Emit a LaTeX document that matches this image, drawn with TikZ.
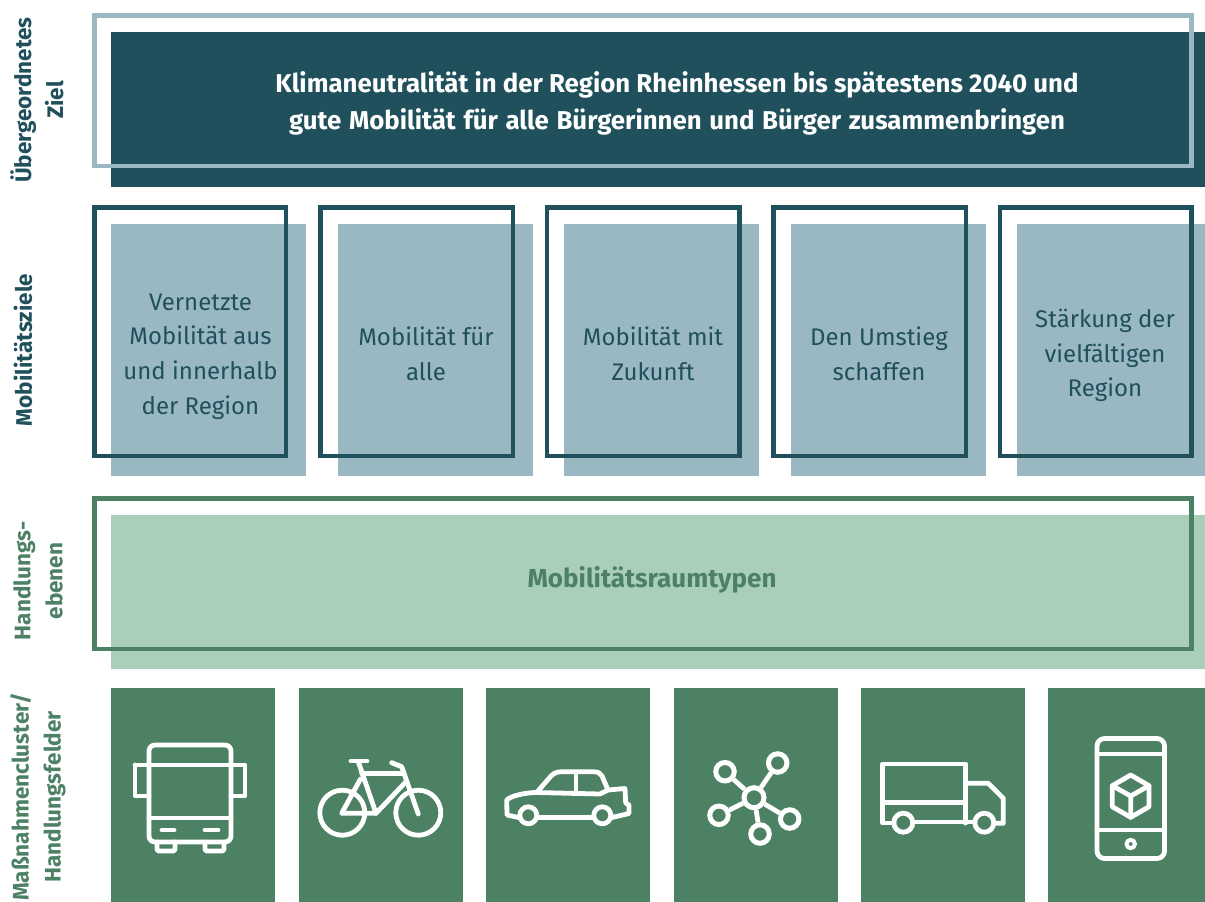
\documentclass[tikz,border=0pt]{standalone}
\usepackage{fontspec}
\setmainfont{Fira Sans}
\definecolor{darkteal}{HTML}{1F505C}
\definecolor{paleteal}{HTML}{9AB8C2}
\definecolor{darkgreen}{HTML}{4C8164}
\definecolor{palegreen}{HTML}{A9CFBA}
\tikzset{
  fillbox/.style={draw=none,fill=#1,rectangle,inner sep=0pt,outer sep=0pt,anchor=north west},
  framebox/.style={draw=#1,line width=4.6pt,fill=none,rectangle,inner sep=0pt,outer sep=0pt,anchor=north west},
  sidelabel/.style={rotate=90,font=\bfseries\fontsize{22.5}{32}\selectfont,align=center,text=#1,inner sep=0pt},
  goaltext/.style={font=\fontsize{24}{34.8}\selectfont,align=center,text=darkteal,inner sep=0pt},
  icon/.style={draw=white,line width=4.8pt,line join=round,line cap=round},
  iconthin/.style={draw=white,line width=4pt,line join=round,line cap=round},
  hub/.style={circle,draw=white,line width=5pt,fill=none,inner sep=0pt,outer sep=2.5pt,minimum size=#1}
}
\newcommand{\fbx}[6]{\node[#1,minimum width=#4pt,minimum height=#5pt] (#6) at (#2,#3) {};}
\begin{document}
\begin{tikzpicture}[x=1pt,y=-1pt]
\useasboundingbox (0,0) rectangle (1205,902);
\begin{scope}
\clip (0,0) rectangle (1205,902);
% Row 1
\fbx{fillbox=darkteal}{111}{32}{1094}{155}{goalfill}
\fbx{framebox=paleteal}{94.5}{15.5}{1097}{150.5}{goalframe}
\node[font=\bfseries\fontsize{25.8}{37}\selectfont,align=center,text=white,inner sep=0pt] (goaltxt) at (677,103.5)
  {Klimaneutralität in der Region Rheinhessen bis spätestens 2040 und\\\makebox[776pt][s]{gute Mobilität für alle Bürgerinnen und Bürger zusammenbringen}};
% Row 2
\fbx{fillbox=paleteal}{111}{224}{195}{252}{a}
\fbx{fillbox=paleteal}{338}{224}{195}{252}{b}
\fbx{fillbox=paleteal}{564}{224}{195}{252}{c}
\fbx{fillbox=paleteal}{791}{224}{195}{252}{d}
\fbx{fillbox=paleteal}{1017}{224}{195}{252}{e}
\fbx{framebox=darkteal}{94.5}{207.5}{191.5}{248.5}{af}
\fbx{framebox=darkteal}{320.5}{207.5}{192.5}{248.5}{bf}
\fbx{framebox=darkteal}{547}{207.5}{192.5}{248.5}{cf}
\fbx{framebox=darkteal}{773.5}{207.5}{192.5}{248.5}{df}
\fbx{framebox=darkteal}{1000}{207.5}{191.5}{248.5}{ef}
\node[goaltext] (at) at (200.5,356.5) {Vernetzte\\Mobilität aus\\und innerhalb\\der Region};
\node[goaltext] (bt) at (426,353.5) {Mobilität für\\alle};
\node[goaltext] (ct) at (653,353.5) {Mobilität mit\\Zukunft};
\node[goaltext] (dt) at (879,353.5) {Den Umstieg\\schaffen};
\node[goaltext] (et) at (1105,355.5) {Stärkung der\\vielfältigen\\Region};
% Row 3
\fbx{fillbox=palegreen}{111}{515}{1094}{154}{lvl}
\fbx{framebox=darkgreen}{94.5}{498.5}{1097}{150.5}{lvlf}
\node[font=\bfseries\fontsize{26}{32}\selectfont,text=darkgreen,inner sep=0pt] (lvlt) at (652,580) {Mobilitätsraumtypen};
% Row 4
\fbx{fillbox=darkgreen}{111}{688}{164}{214}{f1}
\fbx{fillbox=darkgreen}{299}{688}{164}{214}{f2}
\fbx{fillbox=darkgreen}{486}{688}{164}{214}{f3}
\fbx{fillbox=darkgreen}{674}{688}{163.5}{214}{f4}
\fbx{fillbox=darkgreen}{861}{688}{164}{214}{f5}
\fbx{fillbox=darkgreen}{1048}{688}{164}{214}{f6}
% Side labels
\node[sidelabel=darkteal] (s1) at (37,100) {Übergeordnetes\\Ziel};
\node[sidelabel=darkteal] (s2) at (23,350) {Mobilitätsziele};
\node[sidelabel=darkgreen] (s3) at (38,581) {Handlungs-\\ebenen};
\node[sidelabel=darkgreen] (s4) at (38,797) {Maßnahmencluster/\\Handlungsfelder};
% Bus
\draw[icon,rounded corners=6pt] (149,745) rectangle (231,842);
\draw[icon] (135,765) -- (245,765) -- (245,796) -- (231,796);
\draw[icon] (149,796) -- (135,796) -- (135,765);
\draw[icon] (149,818) -- (231,818);
\draw[icon] (162,830) -- (174,830) (205,830) -- (218,830);
\draw[icon,rounded corners=2pt] (157,842) -- (157,851) -- (175,851) -- (175,842);
\draw[icon,rounded corners=2pt] (205,842) -- (205,851) -- (224,851) -- (224,842);
% Bike
\draw[icon] (342.3,812.7) circle[radius=22.5] (418.3,812.7) circle[radius=22.5];
\draw[icon] (351,761) -- (367,761);
\draw[icon] (358.3,761.7) -- (376,813.3) -- (341.7,813.3) -- (360.5,779);
\draw[icon] (361.7,773.3) -- (404,773.3);
\draw[icon] (376,813.3) -- (406,781.7);
\draw[icon] (391.7,762.7) -- (401.7,766.7) -- (418.3,814);
% Car
\draw[icon] (528.3,815.3) circle[radius=8.5] (602.3,815.3) circle[radius=8.5];
\draw[icon] (519.5,817.7) -- (507,815 ) -- (506.7,800) .. controls (512,795) and (528,792.5) .. (536.7,792.5) -- (600,794) -- (608,790) -- (625,788.5) -- (625.7,803) -- (629,805) -- (629,813.5) -- (611,817.7);
\draw[icon] (537,817.7) -- (593.5,817.7);
\draw[icon] (536.7,792.5) -- (551,776) .. controls (555,772) and (558,772) .. (562,771.7) -- (593,771.7) .. controls (599,772) and (600,773) .. (602,776) -- (608,790);
\draw[icon] (576,774) -- (576,792);
% Network
\node[hub=20pt] (nc) at (754,797.7) {};
\node[hub=18.5pt] (n1) at (725,771.7) {};
\node[hub=18.5pt] (n2) at (777.7,763) {};
\node[hub=18.5pt] (n3) at (719,815.3) {};
\node[hub=18.5pt] (n4) at (789.7,819) {};
\node[hub=18.5pt] (n5) at (760,834) {};
\foreach \n in {n1,n2,n3,n4,n5} \draw[draw=white,line width=4.8pt] (nc) -- (\n);
% Truck
\draw[icon] (894,823) -- (882.7,823) -- (882.7,764) -- (965.7,764) -- (965.7,823);
\draw[icon] (882.7,802.7) -- (965.7,802.7);
\draw[icon] (912.5,822) -- (975,822);
\draw[icon] (965.7,783.3) -- (988.3,783.3) -- (1003.3,798.3) -- (1003.3,823.3) -- (994,823.3);
\draw[icon] (903.3,822.7) circle[radius=9.5] (984.3,822.7) circle[radius=9.5];
% Phone
\draw[icon,rounded corners=7.5pt] (1097,738.5) rectangle (1164.5,858.5);
\draw[icon] (1097,754) -- (1164.5,754) (1097,830) -- (1164.5,830);
\draw[iconthin] (1130.7,844) circle[radius=4.2];
\draw[icon] (1130.7,775) -- (1149,785.7) -- (1149,806.7) -- (1130.7,817.3) -- (1112.3,806.7) -- (1112.3,785.7) -- cycle;
\draw[icon] (1112.3,785.7) -- (1130.7,796) -- (1149,785.7) (1130.7,796) -- (1130.7,817.3);
\end{scope}
\end{tikzpicture}
\end{document}
